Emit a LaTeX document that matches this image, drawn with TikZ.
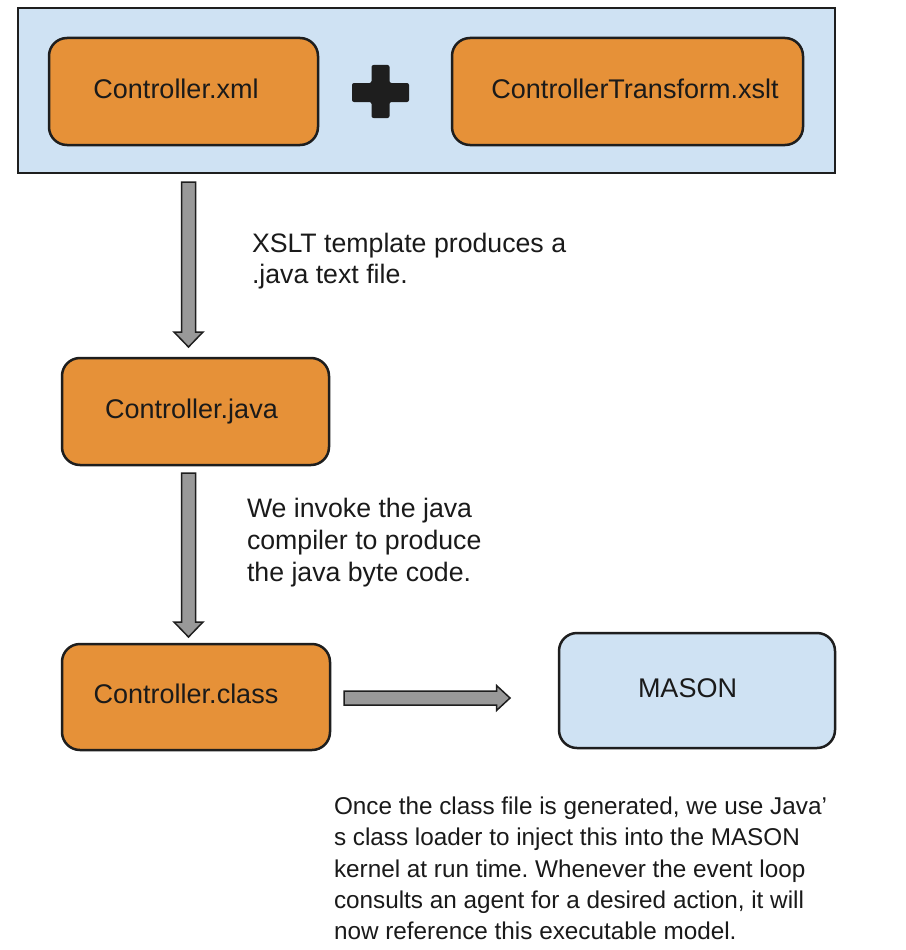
\documentclass[tikz,border=0pt]{standalone}
\usepackage{fontspec}
\setmainfont{Liberation Sans}
\usetikzlibrary{calc}
\frenchspacing
\definecolor{boxorange}{HTML}{E69138}
\definecolor{boxblue}{HTML}{CFE2F3}
\definecolor{edgecol}{HTML}{1E1E1E}
\definecolor{arrowgray}{HTML}{999999}
\definecolor{txtcol}{HTML}{1A1A1A}
\newcommand\fatdown[2]{\draw[fatarrow] ([shift={(-7,0)}]#1) -- ([shift={(-7,-15)}]#2) -- ([shift={(-14.5,-15)}]#2) -- (#2) -- ([shift={(14.5,-15)}]#2) -- ([shift={(7,-15)}]#2) -- ([shift={(7,0)}]#1) -- cycle;}
\newcommand\fatright[2]{\draw[fatarrow] ([shift={(0,-7)}]#1) -- ([shift={(-13.5,-7)}]#2) -- ([shift={(-13.5,-12.5)}]#2) -- (#2) -- ([shift={(-13.5,12.5)}]#2) -- ([shift={(-13.5,7)}]#2) -- ([shift={(0,7)}]#1) -- cycle;}
\begin{document}
\begin{tikzpicture}[x=1pt,y=-1pt,
  outerbox/.style={draw=edgecol, line width=2pt, fill=boxblue, inner sep=0pt, outer sep=0pt},
  filebox/.style={draw=edgecol, line width=2.5pt, rounded corners=18pt, inner sep=0pt, outer sep=0pt,
    text height=20.25pt, text depth=6.75pt, font=\fontsize{27}{32}\selectfont, text=txtcol},
  orangebox/.style={filebox, fill=boxorange},
  bluebox/.style={filebox, fill=boxblue},
  notetext/.style={align=left, inner sep=0pt, outer sep=0pt, text=txtcol, anchor=north west},
  fatarrow/.style={fill=arrowgray, draw=edgecol, line width=1.5pt, line join=miter}]
\fill[white] (0,0) rectangle (905,950);
\useasboundingbox (0,0) rectangle (905,950);
% top container
\node[outerbox, minimum width=817pt, minimum height=165pt] (outer) at (426.5,90.5) {};
\node[orangebox, minimum width=269pt, minimum height=107pt] (xml) at (183.5,91.5) {Controller.xml\kern15pt};
\node[orangebox, minimum width=351pt, minimum height=107pt] (xslt) at (627.5,91.5) {\kern15pt ControllerTransform.xslt};
% plus sign
\fill[edgecol, rounded corners=2pt] (371.5,65) -- (389.5,65) -- (389.5,83) -- (409,83) -- (409,102) -- (389.5,102) -- (389.5,118) -- (371.5,118) -- (371.5,102) -- (352,102) -- (352,83) -- (371.5,83) -- cycle;
% lower boxes
\node[orangebox, minimum width=267pt, minimum height=107pt] (java) at (195.5,411.5) {Controller.java\kern8pt};
\node[orangebox, minimum width=268pt, minimum height=106pt] (class) at (196,697) {Controller.class\kern20pt};
\node[bluebox, minimum width=276pt, minimum height=115pt] (mason) at (697,690.5) {MASON\kern19pt};
% connectors
\coordinate (a1s) at ($(java.north |- outer.south)+(-7,9)$);
\coordinate (a1e) at ($(java.north)+(-7,-11)$);
\coordinate (a2s) at ($(java.south)+(-7,8)$);
\coordinate (a2e) at ($(class.north)+(-7.5,-7)$);
\coordinate (a3s) at ($(class.east)+(14,1)$);
\coordinate (a3e) at ($(a3s -| mason.west)+(-49,0)$);
\fatdown{a1s}{a1e}
\fatdown{a2s}{a2e}
\fatright{a3s}{a3e}
% notes
\node[notetext, font=\fontsize{26.7}{30.5}\selectfont] (n1) at (252,233.5) {XSLT template produces a\\.java text file.};
\node[notetext, font=\fontsize{26.7}{32}\selectfont] (n2) at (247,498.5) {We invoke the java\\compiler to produce\\the java byte code.};
\node[notetext, font=\fontsize{24.3}{31.3}\selectfont] (n3) at (334,797) {Once the class file is generated, we use Java'\\s class loader to inject this into the MASON\\kernel at run time. Whenever the event loop\\consults an agent for a desired action, it will\\now reference this executable model.};
\end{tikzpicture}
\end{document}
